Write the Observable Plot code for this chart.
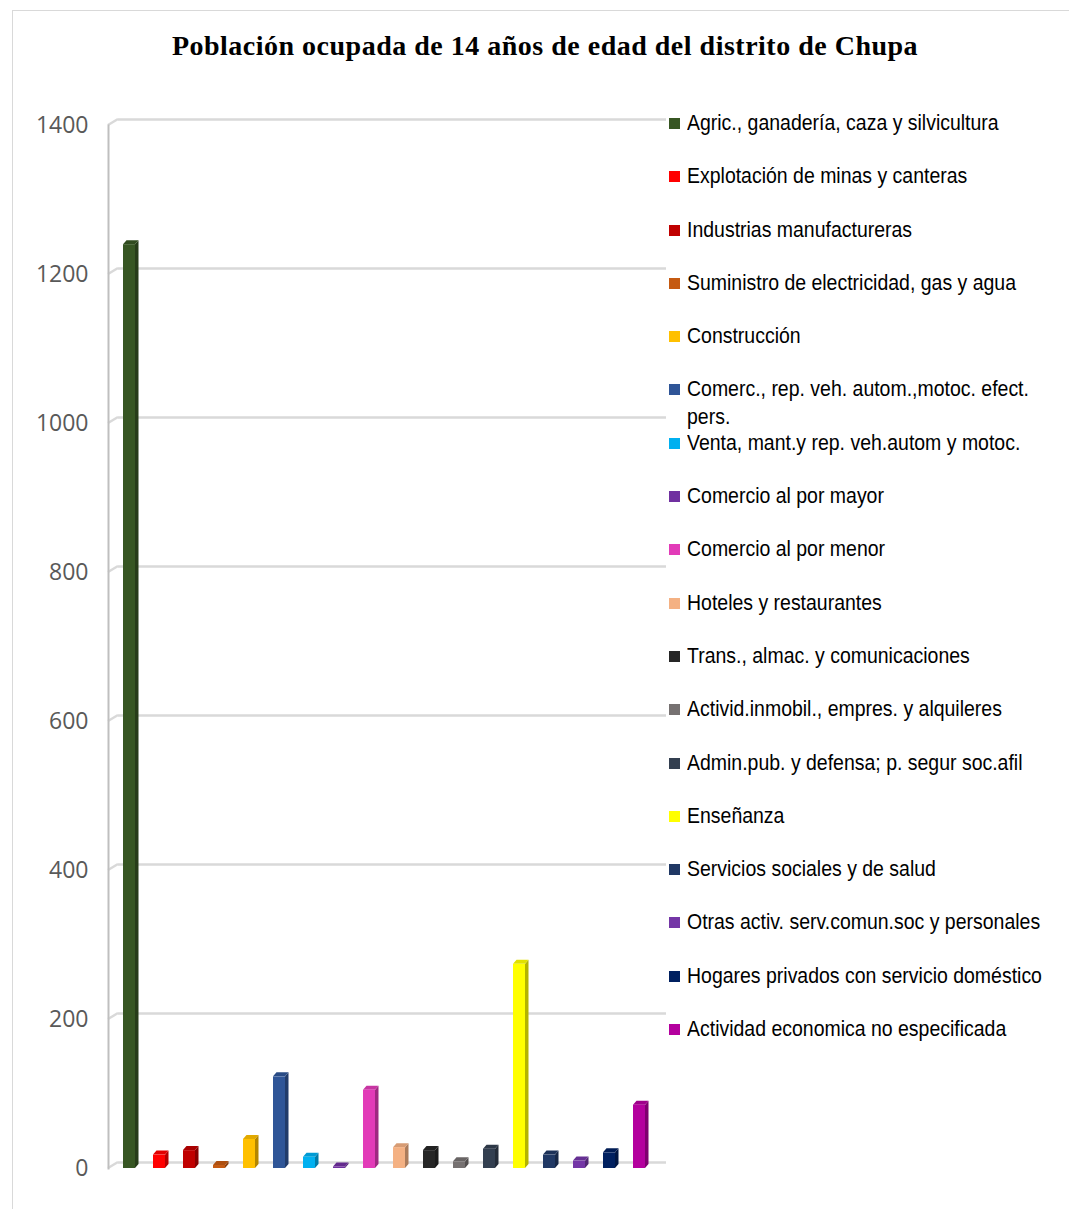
<!DOCTYPE html>
<html>
<head>
<meta charset="utf-8">
<script src="https://cdn.jsdelivr.net/npm/d3@7"></script>
<script src="https://cdn.jsdelivr.net/npm/@observablehq/plot@0.6"></script>
<style>
  html, body { margin: 0; padding: 0; background: #fff; }
  #wrap { position: relative; width: 1069px; height: 1209px; overflow: hidden; }
  #frame { position: absolute; left: 12px; top: 10px; width: 1080px; height: 1220px; border: 1px solid #d9d9d9; box-sizing: border-box; }
  #title { position: absolute; left: 0; width: 1090px; top: 30px; text-align: center;
           font-family: "Liberation Serif", "Times New Roman", serif; font-weight: bold; font-size: 28px;
           letter-spacing: 0.5px; color: #000; }
  #chart { position: absolute; left: 0; top: 0; }
  #legend { position: absolute; left: 669px; top: 109px; width: 400px;
            font-family: "Liberation Sans", Arial, sans-serif; font-size: 22px; color: #000; }
  .item { position: relative; height: 53.3px; }
  .sw { position: absolute; left: 0; top: 9px; width: 11px; height: 11px; }
  .lab { position: absolute; left: 18px; top: 0; width: 415px; line-height: 28px;
         transform: scaleX(0.885); transform-origin: 0 0; }
</style>
</head>
<body>
<div id="wrap">
  <div id="frame"></div>
  <div id="chart"></div>
  <div id="title"></div>
  <div id="legend"></div>
</div>
<script>
const titleText = "Población ocupada de 14 años de edad del distrito de Chupa";
const categories = [
  "Agric., ganadería, caza y silvicultura",
  "Explotación de minas y canteras",
  "Industrias manufactureras",
  "Suministro de electricidad, gas y agua",
  "Construcción",
  "Comerc., rep. veh. autom.,motoc. efect. pers.",
  "Venta, mant.y rep. veh.autom y motoc.",
  "Comercio al por mayor",
  "Comercio al por menor",
  "Hoteles y restaurantes",
  "Trans., almac. y comunicaciones",
  "Activid.inmobil., empres. y alquileres",
  "Admin.pub. y defensa; p. segur soc.afil",
  "Enseñanza",
  "Servicios sociales y de salud",
  "Otras activ. serv.comun.soc y personales",
  "Hogares privados con servicio doméstico",
  "Actividad economica no especificada"
];
const values = [1240, 18, 24, 4, 39, 123, 15, 2, 105, 28, 24, 9, 26, 274, 18, 10, 21, 85];
const colors = ["#375623", "#ff0000", "#c00000", "#c55a11", "#ffc000", "#2f5597", "#00b0f0", "#7030a0",
                "#e23bb8", "#f4b183", "#262626", "#767171", "#333f50", "#ffff00", "#203864", "#7436a6",
                "#002060", "#b4009e"];
const yTicks = [0, 200, 400, 600, 800, 1000, 1200, 1400];

document.getElementById("title").textContent = titleText;

const data = categories.map((c, i) => ({cat: c, value: values[i], color: colors[i]}));

const diagonals = (index, scales, vals, dims) => {
  const g = d3.create("svg:g");
  for (const t of yTicks) {
    const y = scales.y(t);
    g.append("line").attr("x1", dims.marginLeft).attr("y1", y)
      .attr("x2", dims.marginLeft + 10).attr("y2", y - 6)
      .attr("stroke", "#d9d9d9").attr("stroke-width", 2.5);
  }
  return g.node();
};

// side and top faces of the 3D bars, positioned from the plot's own scales
const faces = (index, scales) => {
  const g = d3.create("svg:g");
  let bw = scales.x.bandwidth;
  if (typeof bw === "function") bw = bw();
  if (!bw) bw = (scales.x(categories[1]) - scales.x(categories[0])) * 0.4;
  const ddx = 3.5, ddy = -4;
  for (const d of data) {
    const x0 = scales.x(d.cat), x1 = x0 + bw;
    const yt = scales.y(d.value), yb = scales.y(0);
    const c = d3.color(d.color);
    g.append("path")
      .attr("d", `M${x1},${yb}L${x1 + ddx},${yb + ddy}L${x1 + ddx},${yt + ddy}L${x1},${yt}Z`)
      .attr("fill", c.darker(1).formatHex());
    g.append("path")
      .attr("d", `M${x0},${yt}L${x0 + ddx},${yt + ddy}L${x1 + ddx},${yt + ddy}L${x1},${yt}Z`)
      .attr("fill", c.darker(0.35).formatHex());
  }
  return g.node();
};

const plot = Plot.plot({
  width: 670,
  height: 1209,
  marginLeft: 108,
  marginRight: 14,
  marginTop: 125,
  marginBottom: 41,
  x: {domain: categories, range: [111.4, 656], paddingInner: 0.6, paddingOuter: 0.3, axis: null},
  y: {domain: [0, 1400], axis: null},
  color: {type: "identity"},
  style: {background: "transparent", overflow: "visible"},
  marks: [
    Plot.gridY(yTicks, {stroke: "#d9d9d9", strokeOpacity: 1, strokeWidth: 2.5, dx: 10, dy: -6}),
    diagonals,
    Plot.frame({anchor: "left", stroke: "#bfbfbf", strokeWidth: 2}),
    Plot.axisY(yTicks, {tickSize: 0, tickPadding: 20, fontSize: 23, fill: "#595959",
      fontFamily: "Open Sans, DejaVu Sans, sans-serif", tickFormat: d => String(d), label: null}),
    faces,
    Plot.barY(data, {x: "cat", y: "value", fill: "color"})
  ]
});
document.getElementById("chart").appendChild(plot);

const legend = document.getElementById("legend");
categories.forEach((c, i) => {
  const it = document.createElement("div");
  it.className = "item";
  const sw = document.createElement("div");
  sw.className = "sw";
  sw.style.background = colors[i];
  const lab = document.createElement("div");
  lab.className = "lab";
  lab.textContent = c;
  it.appendChild(sw);
  it.appendChild(lab);
  legend.appendChild(it);
});
</script>
</body>
</html>
